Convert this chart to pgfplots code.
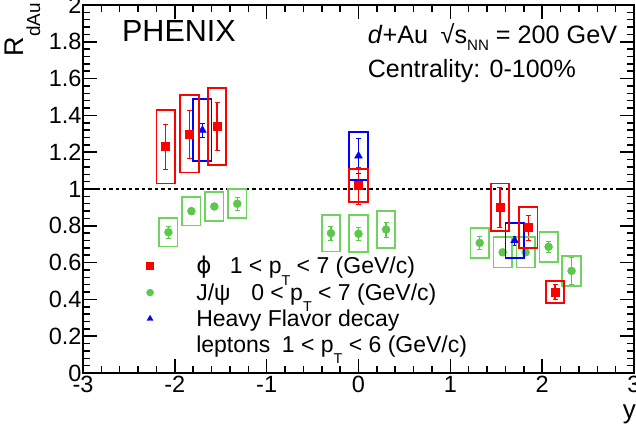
\documentclass[border=0pt]{standalone}
\usepackage{pgfplots}
\pgfplotsset{compat=1.18}
\usepackage{pgfplotstable}
\usepackage{fontspec}
\setmainfont{Liberation Sans}
\newfontfamily\dejavu{DejaVu Sans}
\usetikzlibrary{calc}

\definecolor{jgreen}{RGB}{90,200,75}
\definecolor{jgreenbox}{RGB}{110,212,95}

% lowered, shrunk subscript in the ROOT manner: {raise}{scale}{text}
\newcommand\lsub[3]{\raisebox{#1}{\scalebox{#2}{#3}}}
\newcommand\pT{p\lsub{-0.48em}{0.62}{T}}

% x  y  stat  sys (half height of the systematic box)
\pgfplotstableread{
x      y      stat   sys
-2.10  1.23   0.12   0.20
-1.84  1.30   0.13   0.21
-1.54  1.34   0.13   0.21
 0.00  1.02   0.10   0.09
 1.54  0.90   0.11   0.13
 1.85  0.79   0.07   0.11
 2.14  0.44   0.04   0.06
}\phidata

\pgfplotstableread{
x      y      stat   sys
-1.70  1.32   0.04   0.17
 0.00  1.18   0.095  0.13
 1.70  0.72   0.025  0.094
}\hfdata

\pgfplotstableread{
x      y      stat   sys
-2.07  0.765  0.035  0.078
-1.82  0.88   0.015  0.078
-1.57  0.905  0.015  0.077
-1.32  0.92   0.033  0.079
-0.30  0.76   0.038  0.10
 0.00  0.757  0.033  0.10
 0.30  0.78   0.04   0.10
 1.32  0.707  0.036  0.083
 1.57  0.656  0.015  0.083
 1.82  0.656  0.015  0.083
 2.07  0.686  0.03   0.082
 2.32  0.555  0.075  0.083
}\jpsidata

\pgfplotsset{
  sysbox/.style={
    scatter, only marks, forget plot,
    visualization depends on={\thisrow{sys} \as \sysv},
    scatter/@pre marker code/.code={%
      \draw[#1, line width=1.8pt] (axis direction cs:-0.1,-\sysv) rectangle (axis direction cs:0.1,\sysv);},
    scatter/@post marker code/.code={},
    error bars/y dir=both, error bars/y explicit,
    error bars/error bar style={line width=1.5pt, /tikz/mark size=2.5pt},
  },
}

\begin{document}
\begin{tikzpicture}
\begin{axis}[
  name=ax,
  scale only axis, width=551pt, height=368pt,
  xmin=-3, xmax=3, ymin=0, ymax=2,
  xtick={-3,-2,-1,0,1,2,3},
  ytick={0,0.2,0.4,0.6,0.8,1,1.2,1.4,1.6,1.8,2},
  minor x tick num=4, minor y tick num=4,
  tick align=inside,
  major tick length=14pt, minor tick length=7pt,
  axis line style={line width=1.5pt},
  tick style={black, line width=1.5pt},
  tick label style={font=\fontsize{23.5}{23.5}\selectfont},
  yticklabel style={xshift=2pt},
  /pgf/number format/assume math mode=true,
  legend style={draw=none, fill=none, at={(axis cs:-2.31,0.645)}, anchor=north west,
    inner sep=0pt, row sep=4pt, font=\fontsize{23}{27}\selectfont},
  legend cell align=left,
  legend image code/.code={\path (0pt,0pt) (44pt,0pt); \draw[#1] plot coordinates {(0pt,0pt)};},
]
\addplot[black, line width=1.6pt, dash pattern=on 3.5pt off 3pt, forget plot] coordinates {(-3,1) (3,1)};

\addplot[sysbox=jgreenbox, color=jgreen, mark=*, mark size=4pt]
  table[x=x, y=y, y error=stat] {\jpsidata};
\addplot[sysbox=blue, color=blue, mark=triangle*, mark size=4.5pt]
  table[x=x, y=y, y error=stat] {\hfdata};
\addplot[sysbox=red, color=red, mark=square*, mark size=4pt]
  table[x=x, y=y, y error=stat] {\phidata};

\addlegendimage{only marks, mark=square*, red, mark size=3.5pt}
\addlegendentry{{\dejavu ϕ}\hspace{0.8em}1 < \pT{} < 7 (GeV/c)}
\addlegendimage{only marks, mark=*, jgreen, mark size=3.5pt}
\addlegendentry{J/ψ\hspace{0.9em}0 < \pT{} < 7 (GeV/c)}
\addlegendimage{only marks, mark=triangle*, blue, mark size=3.5pt}
\addlegendentry{Heavy Flavor decay}
\addlegendimage{empty legend}
\addlegendentry{leptons\hspace{0.5em}1 < \pT{} < 6 (GeV/c)}

\node[anchor=base west, inner sep=0pt, font=\fontsize{30.5}{30.5}\selectfont] at (axis cs:-2.576,1.799) {PHENIX};
\node[anchor=base west, inner sep=0pt, font=\fontsize{25.2}{25.2}\selectfont] at (axis cs:0.10,1.793)
  {\textit{d}+Au\hspace{0.5em}√s\lsub{-0.28em}{0.6}{NN} = 200 GeV};
\node[anchor=base west, inner sep=0pt, font=\fontsize{25}{25}\selectfont] at (axis cs:0.10,1.607)
  {Centrality: 0-100\%};
\end{axis}
\node[rotate=90, anchor=base east, inner sep=0pt, font=\fontsize{27}{27}\selectfont]
  at ($(ax.north west)+(-59pt,2pt)$) {R\lsub{-0.6em}{0.7}{dAu}};
\node[anchor=base east, inner sep=0pt, font=\fontsize{26}{26}\selectfont]
  at ($(ax.south east)+(2pt,-45pt)$) {y};
\pgfresetboundingbox
\path ($(ax.south west)+(-83pt,-58pt)$) rectangle ($(ax.north east)+(2pt,5pt)$);
\end{tikzpicture}
\end{document}
